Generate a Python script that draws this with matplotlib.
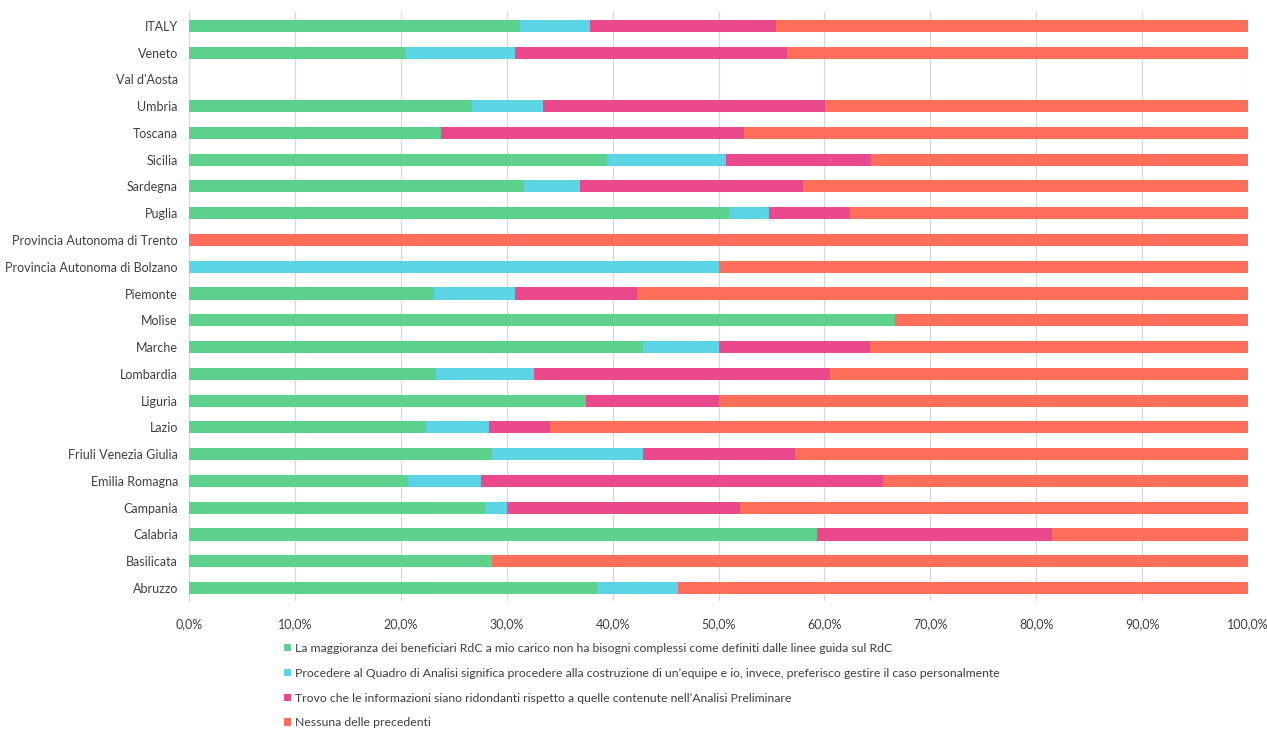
import matplotlib
matplotlib.use("Agg")
import matplotlib.pyplot as plt
import numpy as np
from matplotlib.ticker import FuncFormatter

plt.rcParams['font.family'] = ['Lato', 'DejaVu Sans']

regions = [
    "ITALY", "Veneto", "Val d'Aosta", "Umbria", "Toscana", "Sicilia", "Sardegna",
    "Puglia", "Provincia Autonoma di Trento", "Provincia Autonoma di Bolzano",
    "Piemonte", "Molise", "Marche", "Lombardia", "Liguria", "Lazio",
    "Friuli Venezia Giulia", "Emilia Romagna", "Campania", "Calabria",
    "Basilicata", "Abruzzo",
]

no_complex_needs = [31.3, 20.5, 0, 26.7, 23.8, 39.5, 31.6, 51.0, 0, 0, 23.1, 66.7,
                    42.9, 23.3, 37.5, 22.4, 28.6, 20.7, 28.0, 59.3, 28.6, 38.5]
prefer_personal = [6.6, 10.3, 0, 6.7, 0, 11.2, 5.3, 3.8, 0, 50.0, 7.7, 0,
                   7.1, 9.3, 0, 5.9, 14.3, 6.9, 2.0, 0, 0, 7.7]
redundant_info = [17.5, 25.7, 0, 26.7, 28.6, 13.7, 21.1, 7.6, 0, 0, 11.5, 0,
                  14.3, 27.9, 12.5, 5.8, 14.3, 37.9, 22.0, 22.2, 0, 0]
none_of_above = [44.6, 43.5, 0, 40.0, 47.6, 35.6, 42.1, 37.6, 100.0, 50.0, 57.7, 33.3,
                 35.7, 39.5, 50.0, 65.9, 42.9, 34.5, 48.0, 18.5, 71.4, 53.8]

series_labels = [
    "La maggioranza dei beneficiari RdC a mio carico non ha bisogni complessi come definiti dalle linee guida sul RdC",
    "Procedere al Quadro di Analisi significa procedere alla costruzione di un\u2019equipe e io, invece, preferisco gestire il caso personalmente",
    "Trovo che le informazioni siano ridondanti rispetto a quelle contenute nell\u2019Analisi Preliminare",
    "Nessuna delle precedenti",
]
colors = ["#5ed28c", "#5bd4e6", "#ea4a8b", "#fe6f5b"]

fig = plt.figure(figsize=(12.67, 7.29), dpi=100)
ax = fig.add_axes([0.1492, 0.175, 0.8358, 0.808])

y = np.arange(len(regions))
left = np.zeros(len(regions))
handles = []
for vals, col, lab in zip([no_complex_needs, prefer_personal, redundant_info, none_of_above],
                          colors, series_labels):
    vals = np.array(vals, dtype=float)
    h = ax.barh(y, vals, left=left, height=0.45, color=col, label=lab, zorder=3)
    handles.append(h)
    left += vals

ax.set_xlim(0, 100)
ax.set_ylim(len(regions) - 0.5, -0.5)
ax.set_yticks(y)
ax.set_yticklabels(regions, fontsize=9, color="#404040")
ax.set_xticks(np.arange(0, 101, 10))
ax.xaxis.set_major_formatter(FuncFormatter(lambda v, p: f"{v:.1f}%".replace(".", ",")))
ax.tick_params(axis='x', labelsize=9, labelcolor="#404040", length=0, pad=12)
ax.tick_params(axis='y', length=0, pad=8)
ax.grid(axis='x', color="#d9d9d9", linewidth=0.9, zorder=0)
for s in ["top", "right", "bottom"]:
    ax.spines[s].set_visible(False)
ax.spines["left"].set_color("#d9d9d9")

fig.legend(handles=handles, labels=series_labels, loc="upper left",
           bbox_to_anchor=(0.2245, 0.118), frameon=False, fontsize=8.8,
           labelcolor="#404040", handlelength=0.55, handleheight=0.55,
           handletextpad=0.35, labelspacing=1.13, borderaxespad=0, borderpad=0)

fig.savefig("out.png", dpi=100)
